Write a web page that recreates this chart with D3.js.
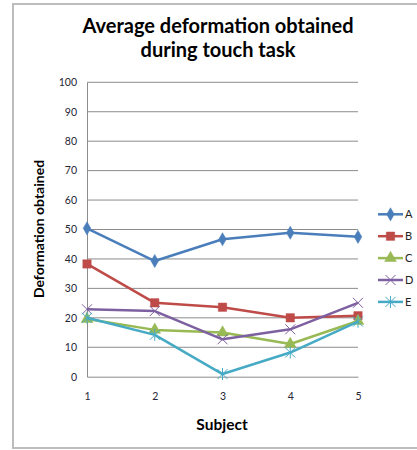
<!DOCTYPE html>
<html lang="en">
<head>
    <meta charset="utf8">
    <script type="text/javascript" src="https://d3js.org/d3.v7.min.js"></script>
    <title>Average deformation obtained during touch task</title>
    <style>
        body { margin: 0; background: #fff; }
        text { font-family: Lato, "Open Sans", sans-serif; }
    </style>
</head>
<body>
    <div class="chart"></div>
</body>
<script type="text/javascript">
    // data
    var subjects = [1, 2, 3, 4, 5];
    var yTicks = [0, 10, 20, 30, 40, 50, 60, 70, 80, 90, 100];
    var seriesNames = ["A", "B", "C", "D", "E"];
    var valuesA = [50.4, 39.3, 46.7, 48.9, 47.5];
    var valuesB = [38.3, 25.1, 23.6, 20.0, 20.7];
    var valuesC = [19.6, 15.9, 15.0, 11.1, 18.9];
    var valuesD = [22.9, 22.3, 12.7, 16.1, 25.1];
    var valuesE = [20.0, 14.2, 0.9, 8.2, 18.7];

    var series = [
        {name: "A", values: valuesA, color: "#4a7ebb", marker: "diamond"},
        {name: "B", values: valuesB, color: "#be4b48", marker: "square"},
        {name: "C", values: valuesC, color: "#98b954", marker: "triangle"},
        {name: "D", values: valuesD, color: "#7d60a0", marker: "x"},
        {name: "E", values: valuesE, color: "#46aac5", marker: "star"}
    ];

    var width = 417, height = 450;
    var svg = d3.select("div.chart")
        .append("svg")
        .attr("width", width)
        .attr("height", height);

    // chart frame
    svg.append("rect")
        .attr("x", 13).attr("y", 4)
        .attr("width", 410).attr("height", 444)
        .attr("fill", "#fff")
        .attr("stroke", "#bdbdbd")
        .attr("stroke-width", 2);

    // scales
    var x = d3.scalePoint().domain(subjects).range([87, 358]);
    var y = d3.scaleLinear().domain([0, 100]).range([376.7, 82.3]);

    // gridlines
    svg.append("g")
        .selectAll("line")
        .data(yTicks.filter(function(d){ return d > 0; }))
        .enter().append("line")
        .attr("x1", 87).attr("x2", 358)
        .attr("y1", function(d){ return y(d); })
        .attr("y2", function(d){ return y(d); })
        .attr("stroke", "#8c8c8c")
        .attr("stroke-width", 1);

    // axes
    var yAxis = svg.append("g")
        .attr("transform", "translate(87,0)")
        .call(d3.axisLeft(y).tickValues(yTicks).tickSize(0).tickPadding(10));
    var xAxis = svg.append("g")
        .attr("transform", "translate(0," + y(0) + ")")
        .call(d3.axisBottom(x).tickSize(0).tickPadding(16));
    [yAxis, xAxis].forEach(function(a){
        a.select(".domain").attr("stroke", "#8c8c8c");
        a.selectAll(".tick text")
            .attr("fill", "#262636")
            .style("font-size", "10.5px")
            .style("font-family", "Lato, 'Open Sans', sans-serif");
    });

    // lines
    var line = d3.line()
        .x(function(d, i){ return x(subjects[i]); })
        .y(function(d){ return y(d); });

    var markerPath = function(type, s){
        if (type === "diamond") return d3.symbol().type(d3.symbolDiamond).size(s * 5)();
        if (type === "square") return d3.symbol().type(d3.symbolSquare).size(s * 7)();
        if (type === "triangle") return d3.symbol().type(d3.symbolTriangle).size(s * 6)();
        if (type === "x") return "M-5,-5L5,5M-5,5L5,-5";
        return "M-5,-5L5,5M-5,5L5,-5M0,-6L0,6";
    };

    series.forEach(function(sr){
        var g = svg.append("g");
        g.append("path")
            .attr("d", line(sr.values))
            .attr("fill", "none")
            .attr("stroke", sr.color)
            .attr("stroke-width", 2.5)
            .attr("stroke-linejoin", "round");
        g.selectAll("path.mk")
            .data(sr.values)
            .enter().append("path")
            .attr("class", "mk")
            .attr("transform", function(d, i){ return "translate(" + x(subjects[i]) + "," + y(d) + ")"; })
            .attr("d", markerPath(sr.marker, 10))
            .attr("fill", sr.color)
            .attr("stroke", sr.color)
            .attr("stroke-width", (sr.marker === "x" || sr.marker === "star") ? 1 : 0.5);
    });

    // legend
    var legend = svg.append("g");
    seriesNames.forEach(function(n, i){
        var sr = series[i];
        var ly = 214.3 + i * 21.9;
        legend.append("line")
            .attr("x1", 378).attr("x2", 403)
            .attr("y1", ly).attr("y2", ly)
            .attr("stroke", sr.color)
            .attr("stroke-width", 2.5);
        legend.append("path")
            .attr("transform", "translate(390.5," + ly + ")")
            .attr("d", markerPath(sr.marker, 10))
            .attr("fill", sr.color)
            .attr("stroke", sr.color)
            .attr("stroke-width", (sr.marker === "x" || sr.marker === "star") ? 1 : 0.5);
        legend.append("text")
            .attr("x", 405).attr("y", ly + 4)
            .attr("fill", "#222")
            .style("font-size", "11px")
            .text(n);
    });

    // titles
    svg.append("text")
        .attr("x", 218).attr("y", 33)
        .attr("text-anchor", "middle")
        .style("font-size", "20px").style("font-weight", "bold")
        .text("Average deformation obtained");
    svg.append("text")
        .attr("x", 218).attr("y", 57)
        .attr("text-anchor", "middle")
        .style("font-size", "20px").style("font-weight", "bold")
        .text("during touch task");
    svg.append("text")
        .attr("transform", "translate(44,229) rotate(-90)")
        .attr("text-anchor", "middle")
        .style("font-size", "14px").style("font-weight", "bold")
        .text("Deformation obtained");
    svg.append("text")
        .attr("x", 222).attr("y", 430)
        .attr("text-anchor", "middle")
        .style("font-size", "15.5px").style("font-weight", "bold")
        .text("Subject");
</script>
</html>
